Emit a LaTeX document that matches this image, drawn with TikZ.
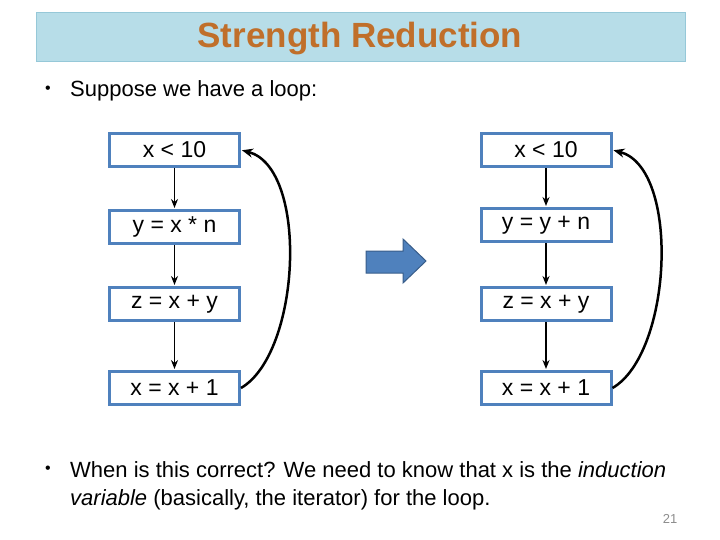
\documentclass[tikz,border=0pt]{standalone}
\usepackage{fontspec}
\setmainfont{Liberation Sans}
\usetikzlibrary{positioning,arrows.meta}

\definecolor{titlebg}{RGB}{183,221,232}
\definecolor{titleline}{RGB}{150,200,216}
\definecolor{titletext}{RGB}{192,111,42}
\definecolor{boxblue}{RGB}{79,129,189}
\definecolor{arrowline}{RGB}{56,93,138}
\definecolor{pagegray}{RGB}{140,140,140}

\tikzset{
  stmt/.style={draw=boxblue, line width=3pt, fill=white, minimum width=130pt,
    minimum height=33pt, inner sep=0pt, font=\fontsize{23}{26}\selectfont},
  flow/.style={-{Stealth[length=9pt,width=7pt]}, line width=1.6pt, shorten >=1pt},
  back/.style={-{Stealth[length=11pt,width=9pt]}, line width=2.5pt, shorten >=1pt},
  bullet/.style={font=\fontsize{16}{16}\selectfont},
  body/.style={font=\fontsize{22}{28}\selectfont, inner sep=0pt, align=left},
}

\begin{document}
\begin{tikzpicture}[x=1pt, y=-1pt]
  \useasboundingbox (0,0) rectangle (720,540);
  % title bar
  \draw[titleline, fill=titlebg] (36,12) rectangle (685,61);
  \node (title) [anchor=base, text=titletext, font=\fontsize{35}{40}\selectfont\bfseries]
    at (360,48) {Strength Reduction};
  \node (b1) [bullet] at (48,90) {•};
  \node (intro) [body, anchor=base west] at (70,97) {Suppose we have a loop:};

  % original loop
  \node (a1) [stmt] at (174.5,150) {x < 10};
  \node (a2) [stmt, node distance=77pt, below of=a1] {y = x * n};
  \node (a3) [stmt, node distance=77pt, below of=a2] {z = x + y};
  \node (a4) [stmt, node distance=84pt, below of=a3] {x = x + 1};
  \draw[flow] (a1) -- (a2);
  \draw[flow] (a2) -- (a3);
  \draw[flow] (a3) -- (a4);
  \draw[back] (a4.east) .. controls +(60,-35) and +(68,18) .. (a1.east);

  % reduced loop
  \node (r1) [stmt, node distance=371.5pt, right of=a1] {x < 10};
  \node (r2) [stmt, node distance=75pt, below of=r1] {y = y + n};
  \node (r3) [stmt, node distance=79pt, below of=r2] {z = x + y};
  \node (r4) [stmt, node distance=84pt, below of=r3] {x = x + 1};
  \draw[flow] (r1) -- (r2);
  \draw[flow] (r2) -- (r3);
  \draw[flow] (r3) -- (r4);
  \draw[back] (r4.east) .. controls +(60,-35) and +(68,18) .. (r1.east);

  % block arrow
  \draw[arrowline, fill=boxblue, line width=1pt]
    (366,251) -- (403,251) -- (403,239) -- (426,261) -- (403,283) -- (403,273) -- (366,273) -- cycle;

  \node (b2) [bullet] at (48,470) {•};
  \node (note) [body, anchor=base west] at (70,505)
    {When is this correct? We need to know that x is the \textit{induction}\\
     \textit{variable} (basically, the iterator) for the loop.};
  \node (page) [text=pagegray, font=\fontsize{13}{13}\selectfont] at (670,519) {21};
\end{tikzpicture}
\end{document}
